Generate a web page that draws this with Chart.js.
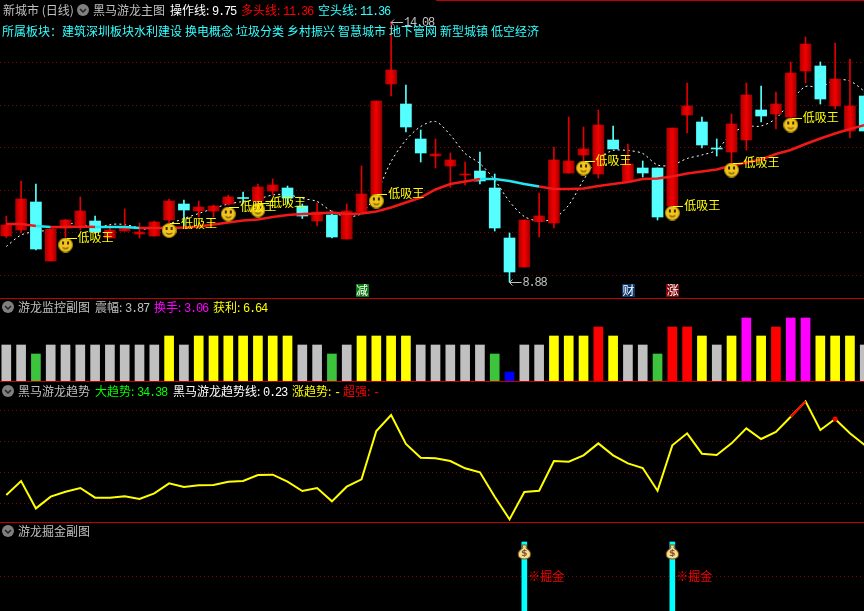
<!DOCTYPE html>
<html>
<head>
<meta charset="utf-8">
<script src="https://cdn.jsdelivr.net/npm/chart.js@4/dist/chart.umd.js"></script>
<style>
  html, body { margin: 0; padding: 0; background: #000; }
  #stage { position: relative; width: 864px; height: 611px; overflow: hidden; background: #000;
    font: 12px "Noto Sans CJK SC", sans-serif; }
  canvas { position: absolute; left: 0; }
  .rule { position: absolute; height: 1px; background: #c00000; right: 0; left: 0; }
  .lb { position: absolute; white-space: nowrap; line-height: 14px; color: #c0c0c0; }
  .lb i { font: 12px "Liberation Mono", monospace; letter-spacing: -1.2px; }
  .icon { position: absolute; }
</style>
</head>
<body>
<div id="stage">
  <canvas id="main" width="864" height="298" style="top:0"></canvas>
  <canvas id="monitor" width="864" height="82" style="top:299px"></canvas>
  <canvas id="trend" width="864" height="140" style="top:382px"></canvas>
  <canvas id="gold" width="864" height="88" style="top:523px"></canvas>

  <div class="rule" style="top:0;left:436px"></div>
  <div class="rule" style="top:298px"></div>
  <div class="rule" style="top:381px"></div>
  <div class="rule" style="top:522px"></div>

  <span class="lb" style="left:3px;top:3px">新城市 (日线)</span>
  <svg class="icon" style="left:77px;top:4px" width="12" height="12"><circle cx="6" cy="6" r="6" fill="#808080"/><path d="M3 5l3 3 3-3" stroke="#222" stroke-width="1.5" fill="none"/></svg>
  <span class="lb" style="left:93px;top:3px">黑马游龙主图</span>
  <span class="lb" style="left:170px;top:3px;color:#fff">操作线: <i>9.75</i></span>
  <span class="lb" style="left:241px;top:3px;color:#f00">多头线: <i>11.36</i></span>
  <span class="lb" style="left:318px;top:3px;color:#3ff">空头线: <i>11.36</i></span>
  <span class="lb" style="left:2px;top:24px;color:#3ff;word-spacing:0.3px">所属板块：建筑深圳板块水利建设 换电概念 垃圾分类 乡村振兴 智慧城市 地下管网 新型城镇 低空经济</span>

  <svg class="icon" style="left:2px;top:301px" width="12" height="12"><circle cx="6" cy="6" r="6" fill="#808080"/><path d="M3 5l3 3 3-3" stroke="#222" stroke-width="1.5" fill="none"/></svg>
  <span class="lb" style="left:18px;top:300px">游龙监控副图</span>
  <span class="lb" style="left:95px;top:300px">震幅: <i>3.87</i></span>
  <span class="lb" style="left:154px;top:300px;color:#f0f">换手: <i>3.06</i></span>
  <span class="lb" style="left:213px;top:300px;color:#ff0">获利: <i>6.64</i></span>

  <svg class="icon" style="left:2px;top:385px" width="12" height="12"><circle cx="6" cy="6" r="6" fill="#808080"/><path d="M3 5l3 3 3-3" stroke="#222" stroke-width="1.5" fill="none"/></svg>
  <span class="lb" style="left:18px;top:384px">黑马游龙趋势</span>
  <span class="lb" style="left:95px;top:384px;color:#0f0">大趋势: <i>34.38</i></span>
  <span class="lb" style="left:173px;top:384px;color:#fff">黑马游龙趋势线: <i>0.23</i></span>
  <span class="lb" style="left:292px;top:384px;color:#ff0">涨趋势: <i>-</i></span>
  <span class="lb" style="left:343px;top:384px;color:#f00">超强: <i>-</i></span>

  <svg class="icon" style="left:2px;top:525px" width="12" height="12"><circle cx="6" cy="6" r="6" fill="#808080"/><path d="M3 5l3 3 3-3" stroke="#222" stroke-width="1.5" fill="none"/></svg>
  <span class="lb" style="left:18px;top:524px">游龙掘金副图</span>
</div>

<script>
// prices, one entry per trading day
const opens = [9.80,9.92,10.48,9.30,9.96,10.02,10.10,9.76,9.90,9.84,9.80,10.12,10.44,10.30,10.30,10.44,10.57,10.50,10.70,10.76,10.40,10.10,10.22,9.74,10.28,10.62,12.84,12.44,11.74,11.40,11.20,11.02,11.10,10.76,9.76,9.18,10.09,10.06,11.06,11.42,11.04,11.72,10.88,11.16,11.16,10.40,12.22,12.08,11.56,11.48,11.72,12.32,12.24,12.18,13.10,13.20,12.40,11.90,12.60];
const closes = [10.02,10.54,9.54,9.94,10.12,10.30,9.88,9.92,9.96,9.88,10.08,10.50,10.32,10.38,10.40,10.58,10.55,10.78,10.82,10.56,10.20,10.28,9.78,10.30,10.64,12.50,13.12,11.98,11.46,11.44,11.32,11.04,10.90,9.96,9.08,10.12,10.20,11.32,11.30,11.54,12.02,11.54,11.24,11.06,10.18,11.96,12.40,11.62,11.54,12.04,12.62,12.20,12.44,13.06,13.64,12.54,12.94,12.40,11.90];
const highs = [10.20,10.90,10.84,9.94,10.13,10.58,10.20,10.02,10.34,10.06,10.10,10.54,10.52,10.50,10.42,10.62,10.68,10.84,10.94,10.80,10.44,10.46,10.30,10.44,11.20,12.50,14.08,12.82,11.92,11.74,11.46,11.28,11.48,11.04,9.86,10.12,10.66,11.58,12.18,11.98,12.32,12.00,11.64,11.30,11.16,11.96,12.86,12.18,11.74,12.24,12.86,12.80,12.68,13.28,13.78,13.28,13.66,13.34,12.72];
const lows = [9.77,9.87,9.52,9.30,9.77,9.92,9.85,9.76,9.90,9.76,9.80,10.04,9.99,10.18,10.18,10.42,10.45,10.35,10.62,10.45,10.15,10.00,9.76,9.74,10.25,10.59,12.60,11.88,11.28,11.16,10.77,10.82,10.84,9.90,8.88,9.18,9.78,9.96,11.06,11.05,10.96,11.54,10.88,10.98,10.12,10.39,11.86,11.56,11.40,11.25,11.52,12.08,11.94,12.15,12.86,12.44,12.34,11.76,11.90];
const operateLine = [9.59,9.82,9.89,9.92,10.04,10.04,9.95,10.03,10.03,9.96,9.92,10.04,10.15,10.25,10.35,10.44,10.49,10.54,10.62,10.63,10.55,10.49,10.29,10.19,10.25,10.65,11.29,11.72,11.99,12.09,11.82,11.45,11.25,10.92,10.49,10.19,10.10,10.15,10.42,10.92,11.35,11.51,11.51,11.45,11.22,11.22,11.35,11.42,11.52,11.85,11.99,12.00,12.15,12.49,12.79,12.77,12.92,12.90,12.69];
const bullLine = [10.04,10.04,10.00,9.98,9.98,9.99,9.98,9.98,9.98,9.96,9.96,9.96,9.97,9.99,10.03,10.07,10.11,10.13,10.18,10.22,10.24,10.25,10.27,10.24,10.25,10.29,10.37,10.47,10.57,10.73,10.84,10.89,10.94,10.94,10.90,10.84,10.79,10.74,10.74,10.75,10.80,10.84,10.88,10.94,10.95,10.99,11.05,11.09,11.13,11.21,11.27,11.33,11.44,11.52,11.64,11.75,11.85,11.94,12.02];
const bearDays = [2,6,7,8,32,33,34,35];
const mainGrid = [13.27,12.41,11.57,10.71,9.87,9.01];

const signalDays = [4,11,15,17,25,39,45,49,53];
const signalPrices = [9.62,9.91,10.24,10.32,10.50,11.16,10.26,11.12,12.02];
const signalText = "低吸王";
const flagDays = [24,42,45];
const flagText = ["减","财","涨"];
const flagPrice = 8.72;

const monitorLevels = [4,4,3,4,4,4,4,4,4,4,4,5,4,5,5,5,5,5,5,5,4,4,3,4,5,5,5,5,4,4,4,4,4,3,1,4,4,5,5,5,6,5,4,4,3,6,6,5,4,5,7,5,6,7,7,5,5,5,4];

const trendLine = [17.92,22.44,13.62,17.39,19.00,20.18,17.06,17.06,17.49,16.63,18.46,21.69,20.50,21.04,21.15,22.22,22.44,24.38,24.48,22.22,19.21,20.18,15.88,20.61,22.98,38.57,43.73,34.38,29.97,29.75,28.89,26.53,25.24,17.39,10.07,18.89,19.32,28.89,28.68,30.72,34.59,30.72,28.14,26.63,19.32,33.95,37.82,31.26,30.83,34.59,39.43,35.99,38.25,43.19,48.14,38.89,42.44,37.82,34.05];
const strongDays = [53,54,56];
const trendGrid = [45.2,35.2,25.2,15.2];

const goldDays = [35,45];
const goldTop = 69;
const goldBag = 59;
const goldGrid = [35];
const goldText = "※掘金";

const days = opens.map((_, i) => i);

const RED = "#e00000";
const CYAN = "#55ffff";
const GRID = "#8a0000";
const CJK = '"Noto Sans CJK SC", sans-serif';
const levelColors = { 1: "#0000ff", 3: "#3cc43c", 4: "#c0c0c0", 5: "#ffff00", 6: "#ff0000", 7: "#ff00ff" };

function xAxis() {
  return { type: "linear", display: false, offset: false, min: -0.4257, max: 57.95 };
}

function yAxis(min, max, levels) {
  return {
    min,
    max,
    ticks: { display: false },
    border: { display: false, dash: [1, 3] },
    grid: { color: GRID, drawTicks: false, display: levels.length > 0 },
    afterBuildTicks: (scale) => {
      scale.ticks = levels.map((value) => ({ value }));
    },
  };
}

function baseOptions(scales) {
  return {
    responsive: false,
    animation: false,
    events: [],
    // no room kept for point radius, the panels run edge to edge
    layout: { padding: 0, autoPadding: false },
    plugins: { legend: { display: false }, tooltip: { enabled: false } },
    scales,
  };
}

function isUp(i) {
  return closes[i] >= opens[i];
}

// the red bodies are shaded darker to the sides
function bodyColor(ctx) {
  if (!isUp(ctx.dataIndex)) return CYAN;
  const chart = ctx.chart;
  const px = chart.scales.x.getPixelForValue(ctx.dataIndex);
  if (!Number.isFinite(px)) return RED;
  const g = chart.ctx.createLinearGradient(px - 5.5, 0, px + 5.5, 0);
  g.addColorStop(0, "#b00000");
  g.addColorStop(0.4, "#e80000");
  g.addColorStop(0.55, "#ee0000");
  g.addColorStop(1, "#a00000");
  return g;
}

function makeSmiley() {
  const c = document.createElement("canvas");
  c.width = 15;
  c.height = 15;
  const g = c.getContext("2d");
  g.fillStyle = "#f2c41c";
  g.beginPath();
  g.arc(7.5, 7.5, 7, 0, Math.PI * 2);
  g.fill();
  g.strokeStyle = "#a8860c";
  g.stroke();
  g.fillStyle = "#3a2a00";
  g.fillRect(4, 4, 2, 3);
  g.fillRect(9, 4, 2, 3);
  g.strokeStyle = "#3a2a00";
  g.beginPath();
  g.arc(7.5, 7, 4.2, 0.25 * Math.PI, 0.75 * Math.PI);
  g.stroke();
  return c;
}

function makeBag() {
  const c = document.createElement("canvas");
  c.width = 15;
  c.height = 16;
  const g = c.getContext("2d");
  g.fillStyle = "#f6e08a";
  g.strokeStyle = "#7a4a20";
  g.beginPath();
  g.moveTo(5, 1);
  g.lineTo(10, 1);
  g.lineTo(9, 4);
  g.bezierCurveTo(16, 8, 15, 15, 7.5, 15);
  g.bezierCurveTo(0, 15, -1, 8, 6, 4);
  g.closePath();
  g.fill();
  g.stroke();
  g.fillStyle = "#8a4a3a";
  g.font = "bold 9px 'DejaVu Sans'";
  g.textAlign = "center";
  g.textBaseline = "middle";
  g.fillText("$", 7.5, 10);
  return c;
}

// text tied to data positions: signal labels, flags and the two extreme prices
const mainLabels = {
  id: "mainLabels",
  afterDatasetsDraw(chart) {
    const { ctx, scales } = chart;
    const { x, y } = scales;
    ctx.save();
    ctx.textBaseline = "middle";
    ctx.font = "12px " + CJK;
    signalDays.forEach((d, i) => {
      const px = x.getPixelForValue(d);
      const py = y.getPixelForValue(signalPrices[i]) - 7.5;
      ctx.fillStyle = "#ffff00";
      ctx.fillRect(Math.round(px) + 1, Math.round(py), 10, 1);
      ctx.fillText(signalText, px + 12, py);
    });
    flagDays.forEach((d, i) => {
      const px = x.getPixelForValue(d);
      const py = y.getPixelForValue(flagPrice);
      ctx.fillStyle = ["#0a7a10", "#0a3a70", "#800808"][i];
      ctx.fillRect(Math.round(px) - 6, Math.round(py) - 6, 13, 13);
      ctx.fillStyle = "#fff";
      ctx.textAlign = "center";
      ctx.fillText(flagText[i], px + 0.5, py);
      ctx.textAlign = "left";
    });
    const hiDay = highs.indexOf(Math.max(...highs));
    const loDay = lows.indexOf(Math.min(...lows));
    ctx.letterSpacing = "-1.2px";
    [[hiDay, highs[hiDay]], [loDay, lows[loDay]]].forEach(([d, v]) => {
      const px = x.getPixelForValue(d);
      const py = y.getPixelForValue(v);
      ctx.strokeStyle = "#c0c0c0";
      ctx.fillStyle = "#c0c0c0";
      ctx.beginPath();
      ctx.moveTo(px + 12, py + 0.5);
      ctx.lineTo(px, py + 0.5);
      ctx.moveTo(px + 3, py - 2.5);
      ctx.lineTo(px, py + 0.5);
      ctx.lineTo(px + 3, py + 3.5);
      ctx.stroke();
      ctx.font = '12px "Liberation Mono", monospace';
      ctx.fillText(v.toFixed(2), px + 13, py + 1);
    });
    ctx.restore();
  },
};

new Chart(document.getElementById("main"), {
  type: "bar",
  data: {
    datasets: [
      {
        type: "line",
        data: days.map((d) => ({ x: d, y: operateLine[d] })),
        borderColor: "#ffffff",
        borderWidth: 1,
        borderDash: [2, 3],
        pointRadius: 0,
        tension: 0.3,
        order: 5,
      },
      {
        data: days.map((d) => ({ x: d, y: [lows[d], highs[d]] })),
        backgroundColor: (ctx) => (isUp(ctx.dataIndex) ? RED : CYAN),
        barThickness: 1,
        grouped: false,
        order: 4,
      },
      {
        data: days.map((d) => ({ x: d, y: [opens[d], closes[d]] })),
        backgroundColor: bodyColor,
        barThickness: 11,
        minBarLength: 1,
        grouped: false,
        order: 3,
      },
      {
        type: "line",
        data: days.map((d) => ({ x: d, y: bullLine[d] })),
        borderColor: "#f01818",
        borderWidth: 2.5,
        pointRadius: 0,
        segment: {
          borderColor: (ctx) => (bearDays.includes(ctx.p0DataIndex) ? "#22e8f0" : undefined),
        },
        order: 2,
      },
      {
        type: "scatter",
        data: signalDays.map((d, i) => ({ x: d, y: signalPrices[i] })),
        pointStyle: makeSmiley(),
        pointRadius: 7,
        showLine: false,
        order: 1,
      },
    ],
  },
  options: baseOptions({ x: xAxis(), y: yAxis(8.56, 14.52, mainGrid) }),
  plugins: [mainLabels],
});

new Chart(document.getElementById("monitor"), {
  type: "bar",
  data: {
    datasets: [
      {
        data: days.map((d) => ({ x: d, y: monitorLevels[d] })),
        backgroundColor: (ctx) => levelColors[monitorLevels[ctx.dataIndex]],
        barThickness: 9,
      },
    ],
  },
  options: baseOptions({ x: xAxis(), y: yAxis(0, 9.11, []) }),
});

new Chart(document.getElementById("trend"), {
  type: "line",
  data: {
    datasets: [
      {
        data: days.map((d) => ({ x: d, y: strongDays.includes(d) ? trendLine[d] : null })),
        borderColor: "#ff0000",
        backgroundColor: "#ff0000",
        borderWidth: 2,
        pointRadius: (ctx) => (ctx.dataIndex === 56 ? 1.5 : 0),
        order: 1,
      },
      {
        data: days.map((d) => ({ x: d, y: trendLine[d] })),
        borderColor: "#ffff00",
        borderWidth: 2,
        pointRadius: 0,
        order: 2,
      },
    ],
  },
  options: baseOptions({ x: xAxis(), y: yAxis(9.22, 54.38, trendGrid) }),
});

const goldLabels = {
  id: "goldLabels",
  afterDatasetsDraw(chart) {
    const { ctx, scales } = chart;
    ctx.save();
    ctx.fillStyle = "#ff0000";
    ctx.font = "12px " + CJK;
    ctx.textBaseline = "middle";
    goldDays.forEach((d) => {
      ctx.fillText(goldText, scales.x.getPixelForValue(d) + 4, scales.y.getPixelForValue(goldGrid[0]));
    });
    ctx.restore();
  },
};

new Chart(document.getElementById("gold"), {
  type: "bar",
  data: {
    datasets: [
      {
        data: goldDays.map((d) => ({ x: d, y: [0, goldTop] })),
        backgroundColor: "#00ffff",
        barThickness: 5,
        order: 2,
      },
      {
        type: "scatter",
        data: goldDays.map((d) => ({ x: d, y: goldBag })),
        pointStyle: makeBag(),
        pointRadius: 8,
        showLine: false,
        order: 1,
      },
    ],
  },
  options: baseOptions({ x: xAxis(), y: yAxis(0, 88, goldGrid) }),
  plugins: [goldLabels],
});
</script>
</body>
</html>
